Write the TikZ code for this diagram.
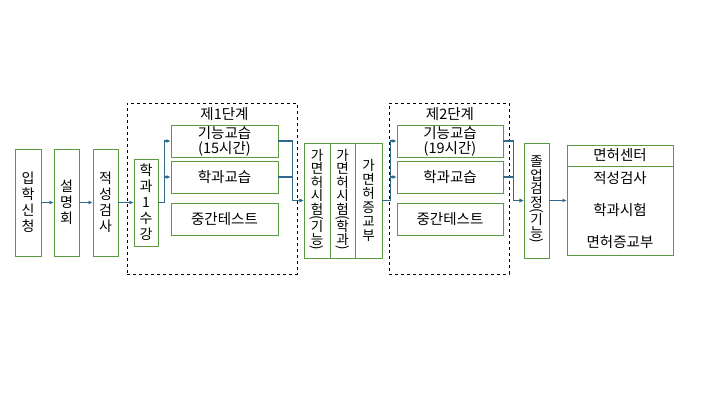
\documentclass[tikz,border=0pt]{standalone}
\usepackage{fontspec}
\setmainfont{Noto Sans CJK KR}
\usepackage{graphicx}
\usetikzlibrary{arrows.meta}
\definecolor{gbox}{HTML}{5B9B3F}
\definecolor{arrc}{HTML}{2F6A8C}
\newcommand{\lp}{\rotatebox[origin=c]{-90}{(}}
\newcommand{\rp}{\rotatebox[origin=c]{-90}{)}}
\tikzset{
  box/.style={draw=gbox, line width=0.9pt, inner sep=0pt, align=center, font=\fontsize{14.5}{16}\selectfont},
  vbox/.style={box, font=\fontsize{14}{16}\selectfont},
  tbox/.style={box, font=\fontsize{13.5}{13.5}\selectfont},
  stagebox/.style={draw=black, dashed, line width=0.7pt, inner sep=0pt},
  arr/.style={draw=arrc, line width=1.1pt, -{Latex[length=4pt,width=4pt]}},
  lbl/.style={font=\fontsize{14.5}{16}\selectfont, inner sep=0pt}
}
\begin{document}
\begin{tikzpicture}[x=1pt,y=-1pt]
\useasboundingbox[fill=white] (0,0) rectangle (720,405);
% stage frames
\node[stagebox, minimum width=170pt, minimum height=171pt] (s1) at (212,188.5) {};
\node[stagebox, minimum width=120pt, minimum height=171pt] (s2) at (449,188.5) {};
\node[lbl] (s1l) at (224.5,114) {제1단계};
\node[lbl] (s2l) at (450,114) {제2단계};
% left column
\node[vbox, minimum width=26pt, minimum height=107pt] (n1) at (28,202.5) {입\\학\\신\\청};
\node[vbox, minimum width=25pt, minimum height=107pt] (n2) at (66.5,202.5) {설\\명\\회};
\node[vbox, minimum width=25pt, minimum height=107pt] (n3) at (105.5,202.5) {적\\성\\검\\사};
\node[vbox, minimum width=24pt, minimum height=87pt] (n4) at (146,202.5) {학\\과\\1\\수\\강};
% stage 1
\node[box, minimum width=107pt, minimum height=32pt, font=\fontsize{14.5}{15}\selectfont] (a1) at (224.5,141) {기능교습\\(15시간)};
\node[box, minimum width=107pt, minimum height=32pt] (a2) at (224.5,177) {학과교습};
\node[box, minimum width=107pt, minimum height=32pt] (a3) at (224.5,219) {중간테스트};
% middle stacked
\node[tbox, minimum width=26pt, minimum height=115pt] (b1) at (317,200.5) {가\\면\\허\\시\\험\\[-6pt]\lp\\[-4pt]기\\능\\[-6pt]\rp};
\node[tbox, minimum width=25pt, minimum height=115pt] (b2) at (342.5,200.5) {가\\면\\허\\시\\험\\[-6pt]\lp\\[-4pt]학\\과\\[-6pt]\rp};
\node[box, minimum width=27pt, minimum height=115pt, font=\fontsize{13.5}{14}\selectfont] (b3) at (368.5,200.5) {가\\면\\허\\증\\교\\부};
% stage 2
\node[box, minimum width=106pt, minimum height=32pt, font=\fontsize{14.5}{15}\selectfont] (c1) at (450,141) {기능교습\\(19시간)};
\node[box, minimum width=106pt, minimum height=32pt] (c2) at (450,177) {학과교습};
\node[box, minimum width=106pt, minimum height=32pt] (c3) at (450,219) {중간테스트};
% graduation
\node[tbox, minimum width=25pt, minimum height=115pt] (d1) at (536.5,200.5) {졸\\업\\검\\정\\[-6pt]\lp\\[-4pt]기\\능\\[-6pt]\rp};
% license center
\node[box, minimum width=106pt, minimum height=21pt] (e1) at (620,155.5) {면허센터};
\node[box, minimum width=106pt, minimum height=89pt] (e2) at (620,210.5) {};
\node[lbl] (e3) at (620,178) {적성검사};
\node[lbl] (e4) at (620,210) {학과시험};
\node[lbl] (e5) at (620,242) {면허증교부};
% connectors
\draw[arr] (n1.east) -- (n2.west);
\draw[arr] (n2.east) -- (n3.west);
\draw[arr] (n3.east) -- (n4.west);
\draw[arr] (n4.east) -- ++(6,0) |- (a1.west);
\draw[arr] (n4.east) -- ++(6,0) |- (a2.west);
\draw[arr] (a1.east) -- ++(14,0) |- (b1.west);
\draw[arr] (a2.east) -- ++(14,0) |- (b1.west);
\draw[arr] (b3.east) -- ++(8,0) |- (c1.west);
\draw[arr] (b3.east) -- ++(8,0) |- (c2.west);
\draw[arr] (c1.east) -- ++(10,0) |- (d1.west);
\draw[arr] (c2.east) -- ++(10,0) |- (d1.west);
\draw[arr] (d1.east) -- (d1.east -| e2.west);
\end{tikzpicture}
\end{document}
